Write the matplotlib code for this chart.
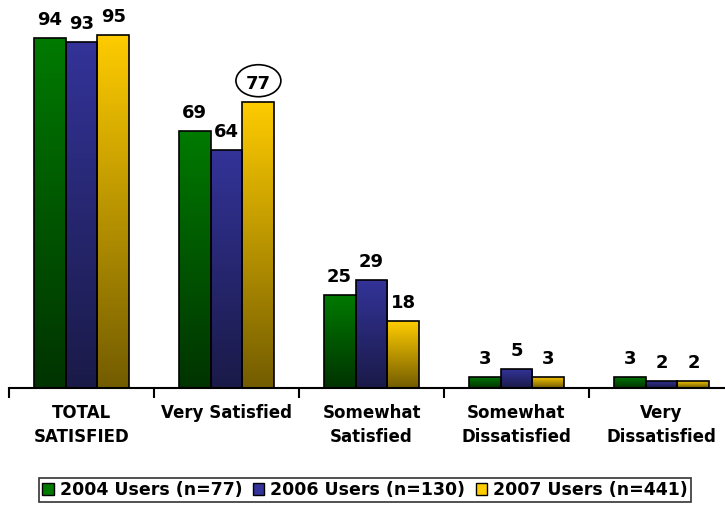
import matplotlib
matplotlib.use("Agg")
import matplotlib.pyplot as plt
import numpy as np
from matplotlib.colors import LinearSegmentedColormap
from matplotlib.patches import Ellipse, Rectangle

categories = ["TOTAL\nSATISFIED", "Very Satisfied", "Somewhat\nSatisfied", "Somewhat\nDissatisfied", "Very\nDissatisfied"]
series_names = ["2004 Users (n=77)", "2006 Users (n=130)", "2007 Users (n=441)"]
v2004 = [94, 69, 25, 3, 3]
v2006 = [93, 64, 29, 5, 2]
v2007 = [95, 77, 18, 3, 2]
series = [v2004, v2006, v2007]
tops = ["#007A00", "#333399", "#FFCC00"]
bottoms = ["#003300", "#1A1A48", "#735C00"]

plt.rcParams['font.family'] = ['DejaVu Sans']
fig = plt.figure(figsize=(7.25, 5.05), dpi=100)
ax = fig.add_axes([9/725, 1-388/505, 1.0, 372/505])
ax.set_xlim(0, 5)
ax.set_ylim(0, 100)

bw = 0.22
for si, vals in enumerate(series):
    cmap = LinearSegmentedColormap.from_list("g%d" % si, [bottoms[si], tops[si]])
    for ci, v in enumerate(vals):
        x0 = ci + 0.5 + (si - 1.5) * bw
        grad = np.linspace(0, 1, 256).reshape(-1, 1)
        im = ax.imshow(grad, cmap=cmap, origin='lower', aspect='auto',
                       extent=(x0, x0 + bw, 0, v), zorder=2)
        rect = Rectangle((x0, 0), bw, v, facecolor='none', edgecolor='black', lw=1.2, zorder=3)
        ax.add_patch(rect)
        im.set_clip_path(rect)
        ax.text(x0 + bw / 2, v + 2.4, str(v), ha='center', va='bottom',
                fontsize=13, fontweight='heavy', zorder=4)

# circle around 77 (2007, Very Satisfied)
cx = 1 + 0.5 + 0.5 * bw + bw / 2
ax.add_patch(Ellipse((cx, v2007[1] + 5.6), 0.31, 8.6, facecolor='none',
                     edgecolor='black', lw=1.2, zorder=5))

for s in ['top', 'right', 'left']:
    ax.spines[s].set_visible(False)
ax.spines['bottom'].set_linewidth(1.5)
ax.set_yticks([])
ax.set_xticks([0, 1, 2, 3, 4, 5])
ax.set_xticklabels([])
ax.tick_params(axis='x', length=7, width=1.5, direction='out')
for ci, c in enumerate(categories):
    ax.text(ci + 0.5, -4.2, c, ha='center', va='top', fontsize=12, fontweight='bold',
            linespacing=1.45, transform=ax.transData)

handles = [Rectangle((0, 0), 1, 1, facecolor=t, edgecolor='black', lw=1) for t in tops]
leg = fig.legend(handles, series_names, loc='center', bbox_to_anchor=(365/725, 1 - 490/505),
                 ncol=3, frameon=True, fancybox=False, edgecolor='black',
                 prop={'weight': 'bold', 'size': 12.5}, handlelength=0.65, handleheight=0.65,
                 handletextpad=0.35, columnspacing=0.6, borderpad=0.2)
leg.get_frame().set_linewidth(1.2)

fig.savefig("out.png", dpi=100)
